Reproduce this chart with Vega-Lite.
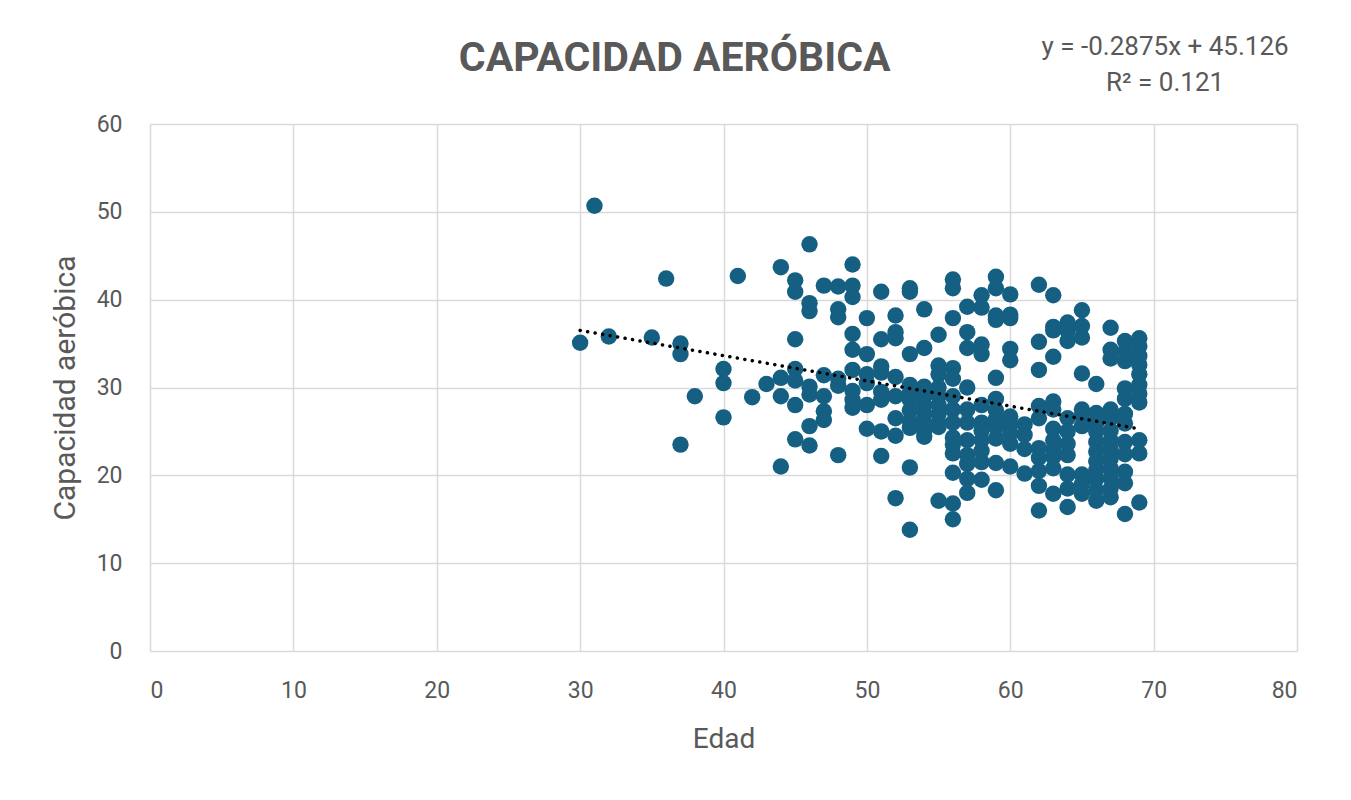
{
  "$schema": "https://vega.github.io/schema/vega-lite/v6.json",
  "autosize": {"type": "none"},
  "width": 1147,
  "height": 527,
  "padding": {"left": 150, "top": 124, "right": 54, "bottom": 149},
  "background": "white",
  "config": {
    "view": {"stroke": null},
    "font": "Roboto",
    "axis": {"labelFont": "Roboto", "titleFont": "Roboto", "labelColor": "#595959", "titleColor": "#595959", "labelFontSize": 23, "titleFontSize": 28, "titleFontWeight": "normal", "gridColor": "#d9d9d9", "gridWidth": 1.5, "domain": false, "ticks": false}
  },
  "datasets": {
    "pts": [
      {"edad":30,"cap":35.1},{"edad":31,"cap":50.7},{"edad":32,"cap":35.8},{"edad":35,"cap":35.7},{"edad":36,"cap":42.4},
      {"edad":37,"cap":35.0},{"edad":37,"cap":33.8},{"edad":37,"cap":23.5},{"edad":38,"cap":29.0},
      {"edad":40,"cap":32.1},{"edad":40,"cap":30.5},{"edad":40,"cap":26.6},{"edad":41,"cap":42.7},{"edad":42,"cap":28.9},{"edad":43,"cap":30.4},
      {"edad":44,"cap":43.7},{"edad":44,"cap":31.1},{"edad":44,"cap":29.0},{"edad":44,"cap":21.0},
      {"edad":45,"cap":42.2},{"edad":45,"cap":40.9},{"edad":45,"cap":35.5},{"edad":45,"cap":32.1},{"edad":45,"cap":30.8},{"edad":45,"cap":28.0},{"edad":45,"cap":24.1},
      {"edad":46,"cap":46.3},{"edad":46,"cap":39.6},{"edad":46,"cap":38.7},{"edad":46,"cap":30.1},{"edad":46,"cap":29.2},{"edad":46,"cap":25.6},{"edad":46,"cap":23.4},
      {"edad":47,"cap":41.6},{"edad":47,"cap":31.4},{"edad":47,"cap":29.0},{"edad":47,"cap":27.3},{"edad":47,"cap":26.3},
      {"edad":48,"cap":41.5},{"edad":48,"cap":38.9},{"edad":48,"cap":38.0},{"edad":48,"cap":31.0},{"edad":48,"cap":30.2},{"edad":48,"cap":22.3},
      {"edad":49,"cap":44.0},{"edad":49,"cap":41.6},{"edad":49,"cap":40.3},{"edad":49,"cap":36.1},{"edad":49,"cap":34.3},{"edad":49,"cap":32.0},{"edad":49,"cap":29.6},{"edad":49,"cap":28.6},{"edad":49,"cap":27.7},
      {"edad":50,"cap":37.9},{"edad":50,"cap":33.8},{"edad":50,"cap":31.5},{"edad":50,"cap":30.5},{"edad":50,"cap":28.0},{"edad":50,"cap":25.3},
      {"edad":51,"cap":40.9},{"edad":51,"cap":35.5},{"edad":51,"cap":32.4},{"edad":51,"cap":31.7},{"edad":51,"cap":29.5},{"edad":51,"cap":28.6},{"edad":51,"cap":25.0},{"edad":51,"cap":22.2},
      {"edad":52,"cap":38.2},{"edad":52,"cap":36.3},{"edad":52,"cap":35.6},{"edad":52,"cap":31.2},{"edad":52,"cap":29.0},{"edad":52,"cap":26.5},{"edad":52,"cap":24.5},{"edad":52,"cap":17.4},
      {"edad":53,"cap":41.3},{"edad":53,"cap":40.9},{"edad":53,"cap":33.8},{"edad":53,"cap":30.3},{"edad":53,"cap":29.4},{"edad":53,"cap":28.6},{"edad":53,"cap":27.4},{"edad":53,"cap":26.2},{"edad":53,"cap":25.4},{"edad":53,"cap":20.9},{"edad":53,"cap":13.8},
      {"edad":54,"cap":38.9},{"edad":54,"cap":34.5},{"edad":54,"cap":30.1},{"edad":54,"cap":29.0},{"edad":54,"cap":28.0},{"edad":54,"cap":27.0},{"edad":54,"cap":26.0},{"edad":54,"cap":25.0},{"edad":54,"cap":24.4},
      {"edad":55,"cap":36.0},{"edad":55,"cap":32.5},{"edad":55,"cap":31.5},{"edad":55,"cap":30.0},{"edad":55,"cap":29.0},{"edad":55,"cap":28.0},{"edad":55,"cap":27.0},{"edad":55,"cap":26.0},{"edad":55,"cap":25.5},{"edad":55,"cap":17.1},
      {"edad":56,"cap":42.3},{"edad":56,"cap":41.3},{"edad":56,"cap":37.9},{"edad":56,"cap":32.2},{"edad":56,"cap":31.0},{"edad":56,"cap":29.0},{"edad":56,"cap":27.5},{"edad":56,"cap":26.0},{"edad":56,"cap":24.3},{"edad":56,"cap":23.5},{"edad":56,"cap":22.5},{"edad":56,"cap":20.3},{"edad":56,"cap":16.8},{"edad":56,"cap":15.0},
      {"edad":57,"cap":39.2},{"edad":57,"cap":36.3},{"edad":57,"cap":34.5},{"edad":57,"cap":30.0},{"edad":57,"cap":27.5},{"edad":57,"cap":26.0},{"edad":57,"cap":24.0},{"edad":57,"cap":22.3},{"edad":57,"cap":21.3},{"edad":57,"cap":19.6},{"edad":57,"cap":18.0},
      {"edad":58,"cap":40.5},{"edad":58,"cap":39.1},{"edad":58,"cap":34.9},{"edad":58,"cap":33.8},{"edad":58,"cap":28.0},{"edad":58,"cap":26.0},{"edad":58,"cap":25.1},{"edad":58,"cap":24.0},{"edad":58,"cap":22.8},{"edad":58,"cap":21.5},{"edad":58,"cap":19.5},
      {"edad":59,"cap":42.6},{"edad":59,"cap":41.3},{"edad":59,"cap":38.2},{"edad":59,"cap":37.7},{"edad":59,"cap":31.1},{"edad":59,"cap":28.7},{"edad":59,"cap":27.4},{"edad":59,"cap":26.4},{"edad":59,"cap":25.5},{"edad":59,"cap":24.2},{"edad":59,"cap":21.4},{"edad":59,"cap":18.3},
      {"edad":60,"cap":40.6},{"edad":60,"cap":38.3},{"edad":60,"cap":37.9},{"edad":60,"cap":34.4},{"edad":60,"cap":33.1},{"edad":60,"cap":26.7},{"edad":60,"cap":25.8},{"edad":60,"cap":24.8},{"edad":60,"cap":23.6},{"edad":60,"cap":21.0},
      {"edad":61,"cap":25.8},{"edad":61,"cap":24.6},{"edad":61,"cap":23.0},{"edad":61,"cap":20.2},
      {"edad":62,"cap":41.7},{"edad":62,"cap":35.2},{"edad":62,"cap":32.0},{"edad":62,"cap":27.9},{"edad":62,"cap":26.5},{"edad":62,"cap":23.1},{"edad":62,"cap":22.0},{"edad":62,"cap":20.5},{"edad":62,"cap":18.8},{"edad":62,"cap":16.0},
      {"edad":63,"cap":40.5},{"edad":63,"cap":36.9},{"edad":63,"cap":36.5},{"edad":63,"cap":33.5},{"edad":63,"cap":28.4},{"edad":63,"cap":27.5},{"edad":63,"cap":25.3},{"edad":63,"cap":24.0},{"edad":63,"cap":22.9},{"edad":63,"cap":22.1},{"edad":63,"cap":20.8},{"edad":63,"cap":17.9},
      {"edad":64,"cap":37.4},{"edad":64,"cap":36.4},{"edad":64,"cap":35.3},{"edad":64,"cap":26.5},{"edad":64,"cap":25.0},{"edad":64,"cap":23.6},{"edad":64,"cap":22.3},{"edad":64,"cap":20.1},{"edad":64,"cap":18.5},{"edad":64,"cap":16.4},
      {"edad":65,"cap":38.8},{"edad":65,"cap":37.0},{"edad":65,"cap":35.7},{"edad":65,"cap":31.6},{"edad":65,"cap":27.5},{"edad":65,"cap":26.8},{"edad":65,"cap":25.6},{"edad":65,"cap":20.1},{"edad":65,"cap":19.0},{"edad":65,"cap":17.9},
      {"edad":66,"cap":30.4},{"edad":66,"cap":27.1},{"edad":66,"cap":26.0},{"edad":66,"cap":25.0},{"edad":66,"cap":23.8},{"edad":66,"cap":22.7},{"edad":66,"cap":21.6},{"edad":66,"cap":20.6},{"edad":66,"cap":19.6},{"edad":66,"cap":18.3},{"edad":66,"cap":17.1},
      {"edad":67,"cap":36.8},{"edad":67,"cap":34.3},{"edad":67,"cap":33.3},{"edad":67,"cap":27.5},{"edad":67,"cap":26.5},{"edad":67,"cap":25.1},{"edad":67,"cap":24.0},{"edad":67,"cap":23.0},{"edad":67,"cap":21.9},{"edad":67,"cap":20.8},{"edad":67,"cap":19.7},{"edad":67,"cap":18.5},{"edad":67,"cap":17.5},
      {"edad":68,"cap":35.3},{"edad":68,"cap":34.1},{"edad":68,"cap":33.0},{"edad":68,"cap":29.9},{"edad":68,"cap":28.7},{"edad":68,"cap":27.0},{"edad":68,"cap":25.9},{"edad":68,"cap":23.8},{"edad":68,"cap":22.4},{"edad":68,"cap":20.4},{"edad":68,"cap":19.1},{"edad":68,"cap":15.6},
      {"edad":69,"cap":35.6},{"edad":69,"cap":34.7},{"edad":69,"cap":33.6},{"edad":69,"cap":32.6},{"edad":69,"cap":31.5},{"edad":69,"cap":30.3},{"edad":69,"cap":29.3},{"edad":69,"cap":28.3},{"edad":69,"cap":24.0},{"edad":69,"cap":22.5},{"edad":69,"cap":16.9}
    ],
    "trend": [{"edad": 30, "cap": 36.50}, {"edad": 69, "cap": 25.29}],
    "eq": [{"edad": 70.8, "cap": 68.8, "label": "y = -0.2875x + 45.126"}, {"edad": 70.8, "cap": 64.7, "label": "R² = 0.121"}],
    "ttl": [{"edad": 36.6, "cap": 66.0, "label": "CAPACIDAD AERÓBICA"}]
  },
  "layer": [
    {
      "data": {"name": "pts"},
      "mark": {"type": "point", "filled": true, "opacity": 1, "size": 270, "color": "#156082", "shape": "circle"},
      "encoding": {
        "x": {"field": "edad", "type": "quantitative", "title": "Edad", "scale": {"domain": [0, 80], "nice": false, "zero": false}, "axis": {"values": [0,10,20,30,40,50,60,70,80], "labelPadding": 28, "titlePadding": 23}},
        "y": {"field": "cap", "type": "quantitative", "title": "Capacidad aeróbica", "scale": {"domain": [0, 60], "nice": false}, "axis": {"values": [0,10,20,30,40,50,60], "labelPadding": 28, "titlePadding": 16, "titleFontSize": 30}}
      }
    },
    {
      "data": {"name": "trend"},
      "mark": {"type": "line", "color": "#000000", "strokeWidth": 3.5, "strokeDash": [0.1, 7.5], "strokeCap": "round"},
      "encoding": {
        "x": {"field": "edad", "type": "quantitative"},
        "y": {"field": "cap", "type": "quantitative"}
      }
    },
    {
      "data": {"name": "eq"},
      "mark": {"type": "text", "fontSize": 26, "color": "#595959", "align": "center", "baseline": "middle", "font": "Roboto"},
      "encoding": {
        "x": {"field": "edad", "type": "quantitative"},
        "y": {"field": "cap", "type": "quantitative"},
        "text": {"field": "label"}
      }
    },
    {
      "data": {"name": "ttl"},
      "mark": {"type": "text", "fontSize": 41, "fontWeight": "bold", "color": "#595959", "align": "center", "baseline": "alphabetic", "font": "Roboto"},
      "encoding": {
        "x": {"field": "edad", "type": "quantitative"},
        "y": {"field": "cap", "type": "quantitative"},
        "text": {"field": "label"}
      }
    }
  ]
}
